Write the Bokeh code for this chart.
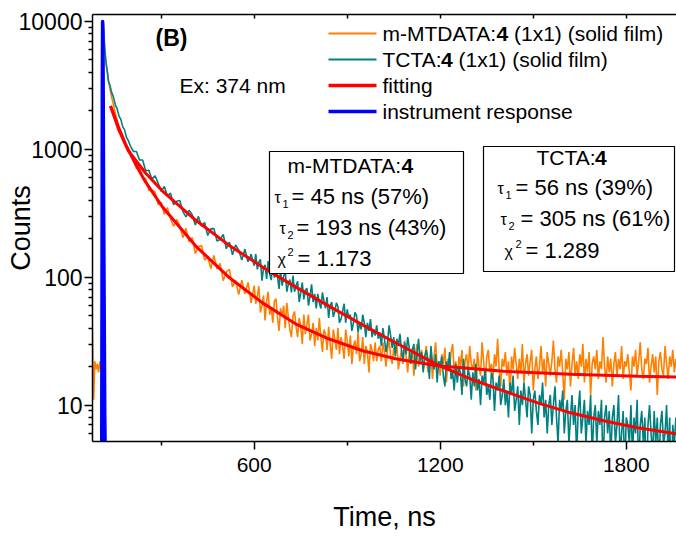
import math
from bokeh.plotting import figure
from bokeh.models import (Range1d, FixedTicker, LinearAxis, Label, BoxAnnotation,
                          CustomJSTickFormatter)
from bokeh.embed import file_html
from bokeh.resources import INLINE

# ---------------- data ----------------
time_ns = [78, 82, 86, 90, 94, 98, 102, 106, 109,
           111, 113, 115, 118, 122, 126, 130, 135, 140, 146, 152, 158, 164, 170, 176, 182, 188, 194, 200,
           210, 220, 230, 240, 250, 260, 270, 280, 290, 300,
           310, 320, 330, 340, 350, 360, 370, 380, 390, 400,
           410, 420, 430, 440, 450, 460, 470, 480, 490, 500,
           510, 520, 530, 540, 550, 560, 570, 580, 590,
           600, 605, 610, 615, 620, 625, 630, 635, 640, 645,
           650, 655, 660, 665, 670, 675, 680, 685, 690, 695,
           700, 705, 710, 715, 720, 725, 730, 735, 740, 745,
           750, 755, 760, 765, 770, 775, 780, 785, 790, 795,
           800, 805, 810, 815, 820, 825, 830, 835, 840, 845,
           850, 855, 860, 865, 870, 875, 880, 885, 890, 895,
           900, 905, 910, 915, 920, 925, 930, 935, 940, 945,
           950, 955, 960, 965, 970, 975, 980, 985, 990, 995,
           1000,
           1005, 1010, 1015, 1020, 1025, 1030, 1035, 1040, 1045, 1050,
           1055, 1060, 1065, 1070, 1075, 1080, 1085, 1090, 1095, 1100,
           1105, 1110, 1115, 1120, 1125, 1130, 1135, 1140, 1145, 1150,
           1155, 1160, 1165, 1170, 1175, 1180, 1185, 1190, 1195, 1200,
           1205, 1210, 1215, 1220, 1225, 1230, 1235, 1240, 1245, 1250,
           1255, 1260, 1265, 1270, 1275, 1280, 1285, 1290, 1295, 1300,
           1305, 1310, 1315, 1320, 1325, 1330, 1335, 1340, 1345, 1350,
           1355, 1360, 1365, 1370, 1375, 1380, 1385, 1390, 1395, 1400,
           1405, 1410, 1415, 1420, 1425, 1430, 1435, 1440, 1445, 1450,
           1455, 1460, 1465, 1470, 1475, 1480, 1485, 1490, 1495, 1500,
           1505, 1510, 1515, 1520, 1525, 1530, 1535, 1540, 1545, 1550,
           1555, 1560, 1565, 1570, 1575, 1580, 1585, 1590, 1595, 1600,
           1605, 1610, 1615, 1620, 1625, 1630, 1635, 1640, 1645, 1650,
           1655, 1660, 1665, 1670, 1675, 1680, 1685, 1690, 1695, 1700,
           1705, 1710, 1715, 1720, 1725, 1730, 1735, 1740, 1745, 1750,
           1755, 1760, 1765, 1770, 1775, 1780, 1785, 1790, 1795, 1800,
           1805, 1810, 1815, 1820, 1825, 1830, 1835, 1840, 1845, 1850,
           1855, 1860, 1865, 1870, 1875, 1880, 1885, 1890, 1895, 1900,
           1905, 1910, 1915, 1920, 1925, 1930, 1935, 1940, 1945, 1950,
           1955, 1960]

counts_mmtdata = [38, 11, 22, 19, 21, 18, 22, 19, 17,
                  3000, 9800, 7800, 5850, 4620, 4060, 3450, 2950, 2560, 2240, 1920, 1690, 1450, 1330, 1190, 1120, 1040, 1005, 915,
                  863, 708, 716, 593, 592, 478, 478, 467, 370, 385,
                  310, 351, 286, 251, 283, 252, 204, 241, 189, 205,
                  153, 174, 177, 136, 146, 117, 148, 116, 128, 94,
                  110, 115, 84, 94, 73, 95, 74, 91, 63,
                  86, 62, 71, 85, 53, 60, 72, 46, 65, 77,
                  51, 58, 44, 65, 68, 49, 38, 57, 50, 60,
                  40, 63, 49, 39, 34, 50, 54, 41, 34, 48,
                  42, 30, 51, 36, 43, 51, 32, 36, 44, 29,
                  40, 32, 48, 34, 26, 39, 36, 27, 41, 30,
                  23, 39, 33, 27, 40, 25, 34, 29, 23, 39,
                  32, 24, 35, 21, 29, 32, 25, 37, 22, 25,
                  34, 21, 29, 26, 18, 30, 27, 22, 31, 22,
                  27,
                  29, 22, 31, 26, 20, 27, 33, 24, 21, 28,
                  25, 30, 19, 23, 27, 21, 32, 24, 18, 26,
                  22, 28, 17, 25, 30, 20, 24, 27, 19, 23,
                  29, 18, 21, 26, 16, 24, 31, 20, 22, 17,
                  25, 21, 28, 15, 23, 19, 26, 30, 18, 22,
                  16, 24, 20, 27, 14, 22, 25, 18, 29, 21,
                  19, 23, 13, 26, 20, 17, 31, 22, 15, 24,
                  27, 18, 21, 16, 25, 20, 33, 19, 14, 23,
                  20, 26, 17, 22, 12, 24, 19, 28, 21, 16,
                  23, 18, 30, 15, 21, 25, 17, 22, 27, 13,
                  19, 24, 16, 20, 29, 18, 23, 14, 26, 21,
                  17, 22, 32, 19, 15, 24, 20, 27, 18, 11,
                  23, 19, 26, 14, 21, 28, 17, 22, 16, 25,
                  20, 30, 15, 23, 18, 26, 12, 21, 24, 19,
                  27, 16, 22, 19, 34, 20, 15, 24, 18, 23,
                  14, 21, 26, 17, 23, 19, 29, 16, 22, 20,
                  25, 18, 13, 24, 20, 27, 17, 22, 31, 19,
                  16, 23, 21, 28, 15, 20, 25, 18, 24, 12,
                  22, 26, 19, 17, 29, 21, 16, 24, 20, 27,
                  18, 23]

counts_tcta = [1, 1, 2, 1, 1, 2, 1, 3, 40,
               3500, 10000, 8100, 6150, 4800, 4120, 3390, 3150, 2790, 2560, 2230, 2070, 1820, 1710, 1500, 1420, 1240, 1170, 1070,
               965, 962, 827, 825, 680, 687, 585, 621, 546, 469,
               513, 433, 454, 369, 393, 398, 326, 296, 334, 308,
               256, 299, 250, 268, 212, 239, 240, 192, 197, 216,
               167, 188, 150, 179, 163, 136, 166, 132, 151,
               123, 152, 115, 131, 138, 94, 117, 125, 97, 134,
               106, 95, 134, 99, 116, 103, 81, 114, 86, 101,
               114, 77, 88, 96, 76, 103, 77, 86, 93, 64,
               76, 91, 67, 79, 82, 60, 71, 88, 64, 74,
               57, 74, 63, 57, 76, 65, 57, 70, 48, 60,
               64, 49, 54, 63, 59, 44, 47, 54, 62, 44,
               56, 48, 51, 38, 44, 53, 50, 37, 44, 39,
               51, 44, 34, 44, 38, 47, 34, 39, 35, 42,
               33,
               37, 29, 40, 33, 26, 31, 42, 35, 28, 34,
               24, 33, 29, 36, 27, 22, 31, 25, 34, 28,
               21, 27, 30, 19, 25, 33, 22, 26, 18, 24,
               27, 23, 16, 29, 21, 19, 25, 15, 22, 20,
               24, 17, 14, 22, 19, 26, 16, 18, 13, 21,
               15, 20, 18, 12, 23, 16, 14, 19, 17, 11,
               18, 14, 21, 13, 16, 10, 17, 15, 19, 12,
               14, 11, 18, 16, 9, 15, 13, 17, 10, 12,
               16, 10, 13, 8, 15, 12, 17, 9, 11, 14,
               7, 13, 10, 15, 11, 8, 14, 12, 6, 11,
               13, 9, 7, 12, 10, 15, 8, 11, 6, 10,
               12, 7, 10, 14, 8, 5, 11, 9, 13, 6,
               9, 11, 5, 8, 12, 7, 10, 4, 9, 13,
               6, 8, 11, 5, 9, 7, 12, 4, 8, 10,
               5, 9, 7, 11, 3, 8, 10, 6, 9, 4,
               8, 10, 5, 7, 12, 4, 6, 9, 3, 8,
               7, 5, 10, 4, 8, 6, 11, 3, 7, 9,
               5, 8, 2, 7, 10, 6, 4, 9, 5, 8,
               3, 7, 9, 5, 6, 10, 4, 8, 2, 7,
               5, 8]

fit_time_mmtdata = [136.5, 149.4, 162.3, 184.8, 217.1, 249.4, 304.2, 410.6, 517.1, 626.8, 733.2,
                    839.7, 949.4, 1055.8, 1191.3, 1404.2, 1620.3, 1836.5, 1962]
fit_mmtdata = [2180, 1790, 1494, 1100, 768, 556, 354, 176, 100.5, 63, 43.2,
               33, 26.6, 23.0, 20.3, 18.4, 17.4, 16.8, 16.6]

fit_time_tcta = [136.5, 149.4, 162.3, 194.5, 221.9, 249.4, 304.2, 410.6, 517.1, 626.8, 733.2,
                 839.7, 949.4, 1055.8, 1191.3, 1297.7, 1404.2, 1513.9, 1620.3, 1726.8, 1836.5, 1962]
fit_tcta = [2180, 1790, 1441, 970, 796, 653, 472, 280, 179, 120, 84,
            59.7, 42.4, 30.7, 20.6, 16.0, 12.9, 10.4, 8.7, 7.54, 6.65, 5.97]

irf_time = [100, 106, 108, 109, 110, 111, 112, 113, 114, 116, 118, 121, 126]
irf_counts = [1, 1, 2, 60, 3000, 10000, 8000, 2500, 500, 60, 8, 2, 1]

x_major_ticks = [600, 1200, 1800]
x_minor_ticks = [300, 900, 1500]
y_major_ticks = [10, 100, 1000, 10000]
y_minor_ticks = [6, 7, 8, 9, 20, 30, 40, 50, 60, 70, 80, 90,
                 200, 300, 400, 500, 600, 700, 800, 900,
                 2000, 3000, 4000, 5000, 6000, 7000, 8000, 9000]

ORANGE = "#FF8000"
TEAL = "#008080"
RED = "#FF0000"
BLUE = "#0000FF"
FONT = "Liberation Sans"

# ---------------- layout ----------------
X0, X1 = 78.4, 1962.0
Y0, Y1 = 5.19, 11340.0
FL, FR, FT, FB = 92, 676, 14, 441


def tx(px):
    return X0 + (px - FL) * (X1 - X0) / (FR - FL)


def cy(py):
    l0, l1 = math.log10(Y0), math.log10(Y1)
    return 10 ** (l0 + (FB - py) * (l1 - l0) / (FB - FT))


p = figure(width=676, height=536, y_axis_type="log",
           x_range=Range1d(X0, X1), y_range=Range1d(Y0, Y1),
           output_backend="svg", toolbar_location=None,
           min_border_left=FL, min_border_right=0, min_border_top=FT, min_border_bottom=536 - FB)
p.outline_line_color = None
p.xgrid.visible = False
p.ygrid.visible = False
p.background_fill_color = "white"
p.border_fill_color = "white"

xa = p.xaxis[0]
xa.ticker = FixedTicker(ticks=x_major_ticks, minor_ticks=x_minor_ticks)
ya = p.yaxis[0]
ya.ticker = FixedTicker(ticks=y_major_ticks, minor_ticks=y_minor_ticks)
ya.formatter = CustomJSTickFormatter(code="return tick.toFixed(0);")

for ax in (xa, ya):
    ax.axis_line_color = "black"
    ax.axis_line_width = 1.5
    ax.major_tick_line_color = "black"
    ax.major_tick_line_width = 1.5
    ax.minor_tick_line_color = "black"
    ax.minor_tick_line_width = 1.5
    ax.major_tick_in = 0
    ax.major_tick_out = 8
    ax.minor_tick_in = 0
    ax.minor_tick_out = 4
    ax.major_label_text_font = FONT
    ax.major_label_text_color = "black"
    ax.axis_label_text_font = FONT
    ax.axis_label_text_font_style = "normal"
    ax.axis_label_text_color = "black"
    ax.axis_label_text_font_size = "27px"

xa.major_label_text_font_size = "21px"
xa.major_label_standoff = 8
xa.axis_label = "Time, ns"
xa.axis_label_standoff = 27

ya.major_label_text_font_size = "23px"
ya.major_label_standoff = 2
ya.axis_label = "Counts"
ya.axis_label_standoff = -20

top = LinearAxis(ticker=FixedTicker(ticks=[], minor_ticks=[300, 600, 900, 1200, 1500, 1800]),
                 axis_line_color="black", axis_line_width=1.5,
                 major_tick_in=0, major_tick_out=0,
                 minor_tick_in=4, minor_tick_out=0, minor_tick_line_width=1.5,
                 minor_tick_line_color="black")
p.add_layout(top, "above")

# ---------------- data lines ----------------
p.line(time_ns, counts_mmtdata, color=ORANGE, line_width=1.6)
p.line(time_ns, counts_tcta, color=TEAL, line_width=1.6)
p.line(fit_time_mmtdata, fit_mmtdata, color=RED, line_width=3)
p.line(fit_time_tcta, fit_tcta, color=RED, line_width=3)
p.line(irf_time, irf_counts, color=BLUE, line_width=3.5, line_cap="round", line_join="round")


# ---------------- annotations ----------------
def lab(px, py, text, size=21, style="normal"):
    p.add_layout(Label(x=tx(px), y=cy(py), text=text, text_font=FONT,
                       text_font_size=f"{size}px", text_font_style=style,
                       text_baseline="middle", text_align="left", text_color="black"))


def sample(px0, px1, py, color, thick):
    p.add_layout(BoxAnnotation(left=tx(px0), right=tx(px1), top=cy(py - thick / 2),
                               bottom=cy(py + thick / 2), fill_color=color, fill_alpha=1,
                               line_color=None))


def frame_box(l, r, t, b):
    p.add_layout(BoxAnnotation(left=tx(l), right=tx(r), top=cy(t), bottom=cy(b),
                               fill_color="white", fill_alpha=1, line_color="black",
                               line_alpha=1, line_width=1.2))


# legend
lx0, lx1, ltx = 328, 376, 382
rows = [33, 59, 85, 111]
sample(lx0, lx1, rows[0], ORANGE, 2)
sample(lx0, lx1, rows[1], TEAL, 2)
sample(lx0, lx1, rows[2], RED, 3.5)
sample(lx0, lx1, rows[3], BLUE, 3.5)
lab(ltx, rows[0], "m-MTDATA:")
lab(ltx + 114, rows[0], "4", style="bold")
lab(ltx + 131.5, rows[0], "(1x1) (solid film)")
lab(ltx, rows[1], "TCTA:")
lab(ltx + 58.5, rows[1], "4", style="bold")
lab(ltx + 76, rows[1], "(1x1) (solid film)")
lab(ltx, rows[2], "fitting")
lab(ltx, rows[3], "instrument response")

lab(155, 37, "(B)", size=23, style="bold")
lab(179, 85, "Ex:  374 nm")

# box 1
frame_box(269, 463, 151, 273)
lab(287, 165, "m-MTDATA:")
lab(287 + 114, 165, "4", style="bold")
lab(274, 197, "τ", size=16)
lab(282, 203, "1", size=11)
lab(291, 196, "= 45 ns (57%)", size=22)
lab(279, 228, "τ", size=16)
lab(287, 234, "2", size=11)
lab(296, 227, "= 193 ns (43%)", size=22)
lab(277, 259, "χ", size=16)
lab(287, 251, "2", size=11)
lab(297, 258, "= 1.173", size=22)

# box 2
frame_box(483, 674, 146, 271)
lab(536, 157, "TCTA:")
lab(536 + 58.5, 157, "4", style="bold")
lab(497, 188, "τ", size=16)
lab(505, 194, "1", size=11)
lab(515, 187, "= 56 ns (39%)", size=22)
lab(500, 219, "τ", size=16)
lab(508, 225, "2", size=11)
lab(520, 218, "= 305 ns (61%)", size=22)
lab(504, 251, "χ", size=16)
lab(515, 243, "2", size=11)
lab(525, 250, "= 1.289", size=22)

open("out.html", "w").write(file_html(p, INLINE))
